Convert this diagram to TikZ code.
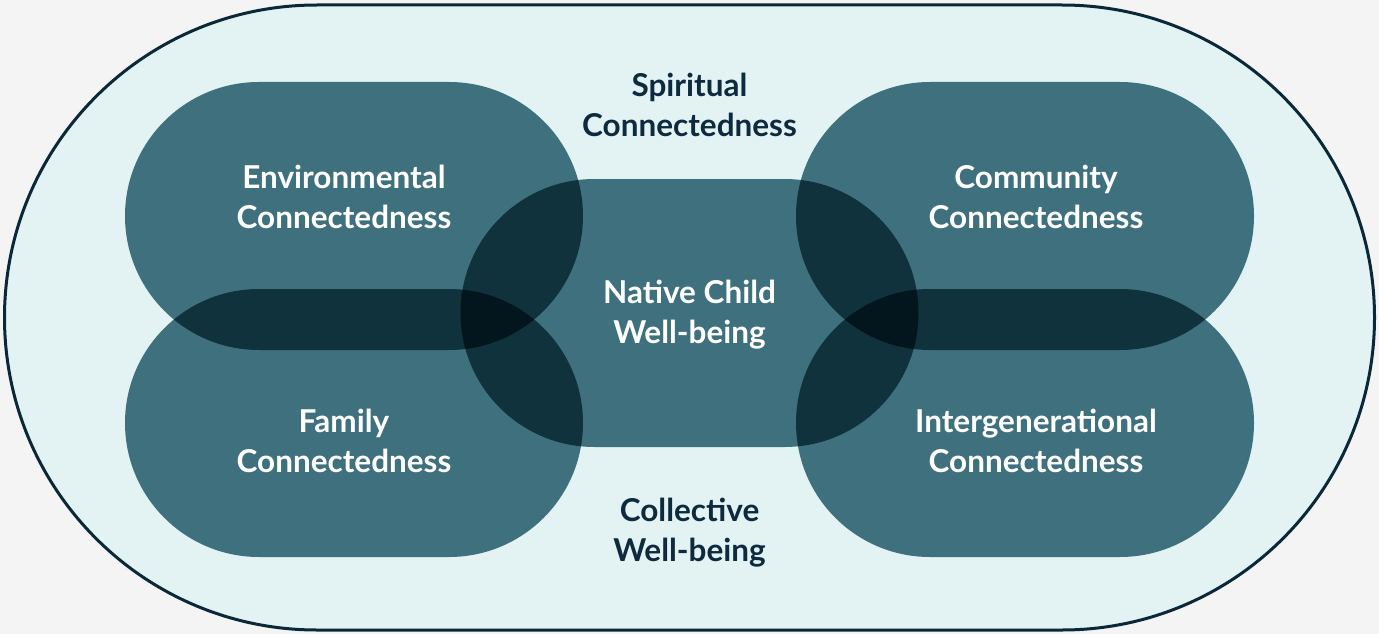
\documentclass[tikz,border=0pt]{standalone}
\usepackage{fontspec}
\setmainfont{Lato}
\definecolor{pagegray}{HTML}{F4F4F4}
\definecolor{ringfill}{HTML}{E3F3F4}
\definecolor{ringline}{HTML}{0B2839}
\definecolor{pillteal}{HTML}{3E717D}
\definecolor{navytext}{HTML}{0D2A3E}
\tikzset{
  ring/.style={fill=ringfill, draw=ringline, line width=3pt, rounded corners=312.5pt},
  pill/.style={fill=pillteal, rounded corners=134pt},
  intext/.style={text=white, font=\bfseries\fontsize{31.5}{40}\selectfont, align=center},
  outtext/.style={intext, text=navytext}
}
\begin{document}
\begin{tikzpicture}[x=1pt,y=-1pt]
  \useasboundingbox (0,0) rectangle (1379,634);
  \fill[pagegray] (0,0) rectangle (1379,634);
  % outer stadium
  \draw[ring] (4.5,5) rectangle (1374.5,630);
  % five pills, multiplied so the overlaps get darker
  \begin{scope}[blend group=multiply]
    \foreach \cx/\cy in {354/216, 354/423, 689.5/313, 1025/216, 1025/423}
      \fill[pill] ({\cx-229},{\cy-134}) rectangle ({\cx+229},{\cy+134});
  \end{scope}
  % labels
  \node[outtext] (spirit) at (689.5,105) {Spiritual\\Connectedness};
  \node[outtext] (collect) at (689.5,533) {Collective\\Well-being};
  \node[intext] (env) at (344,197) {Environmental\\Connectedness};
  \node[intext] (fam) at (344,441) {Family\\Connectedness};
  \node[intext] (child) at (689.5,315) {Native Child\\Well-being};
  \node[intext] (comm) at (1036,197) {Community\\Connectedness};
  \node[intext] (inter) at (1036,441) {Intergenerational\\Connectedness};
\end{tikzpicture}
\end{document}
